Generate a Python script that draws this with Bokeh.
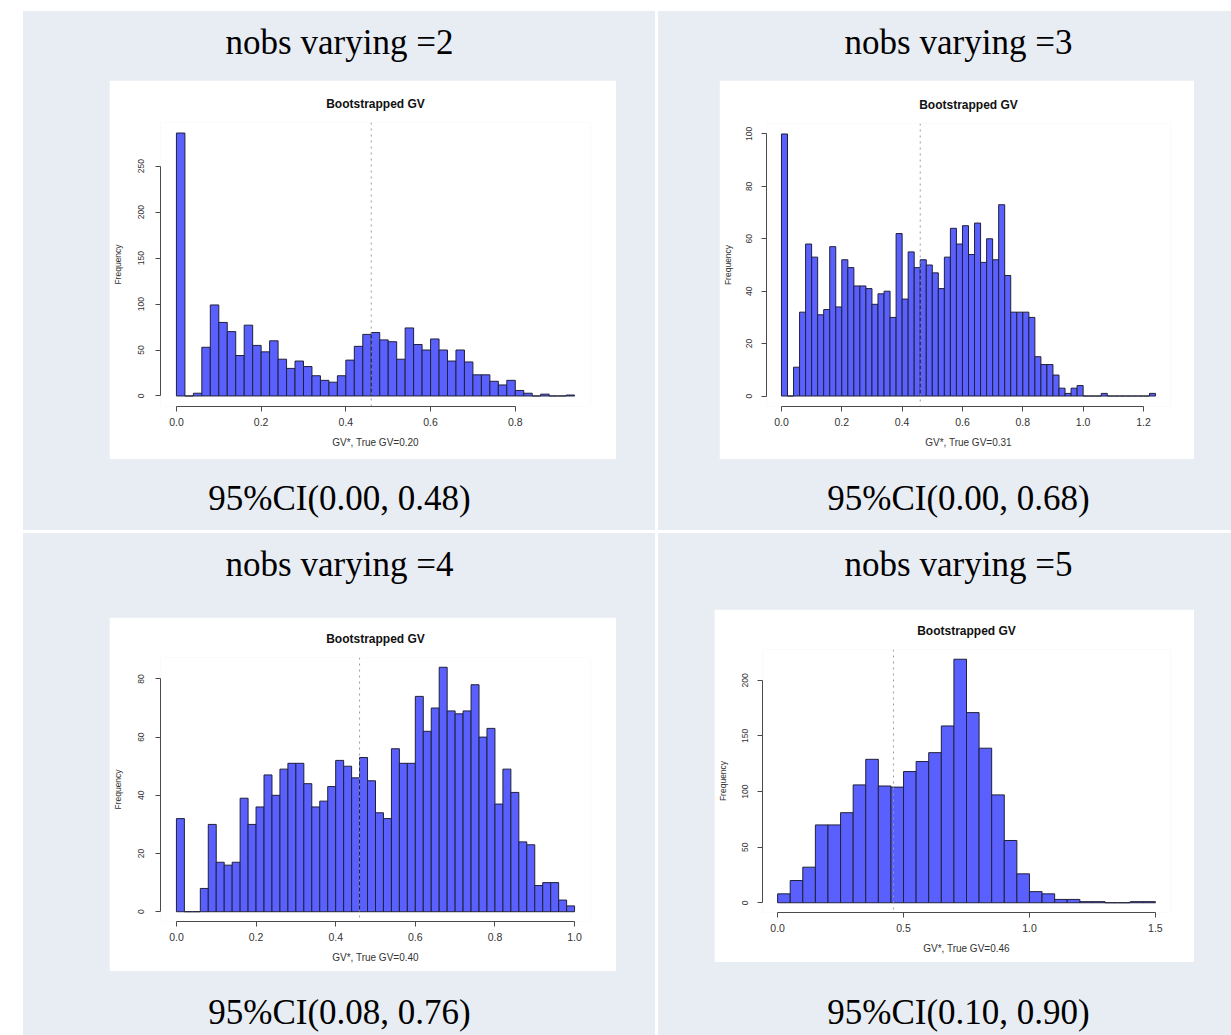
from bokeh.plotting import figure
from bokeh.layouts import row, column
from bokeh.models import Range1d, Span, FixedTicker, Spacer, NumeralTickFormatter
from bokeh.core.properties import value
from bokeh.embed import file_html
from bokeh.resources import INLINE

# ---------------- data ----------------
titles = ["nobs varying =2", "nobs varying =3", "nobs varying =4", "nobs varying =5"]
captions = ["95%CI(0.00, 0.48)", "95%CI(0.00, 0.68)", "95%CI(0.08, 0.76)", "95%CI(0.10, 0.90)"]
plot_title = "Bootstrapped GV"
x_labels = ["GV*, True GV=0.20", "GV*, True GV=0.31", "GV*, True GV=0.40", "GV*, True GV=0.46"]
y_label = "Frequency"

bin_widths = [0.02, 0.02, 0.02, 0.05]

counts_2 = [286, 0, 3, 53, 99, 80, 70, 44, 77, 55, 48, 60, 40, 30, 38, 32, 22, 17, 15, 22,
            39, 54, 67, 69, 61, 59, 40, 74, 56, 50, 62, 50, 38, 50, 37, 23, 23, 16, 12, 17,
            6, 3, 0, 2, 0, 0, 1]
counts_3 = [100, 0, 11, 32, 58, 53, 31, 33, 57, 34, 52, 49, 42, 42, 41, 35, 39, 40, 30, 62,
            37, 55, 49, 52, 50, 47, 41, 53, 64, 58, 65, 54, 66, 51, 60, 52, 73, 46, 32, 32,
            32, 30, 15, 12, 12, 8, 3, 1, 3, 4, 0, 0, 0, 1, 0, 0, 0, 0, 0, 0, 0, 1]
counts_4 = [32, 0, 0, 8, 30, 17, 16, 17, 39, 30, 36, 47, 40, 49, 51, 51, 44, 36, 38, 43,
            52, 50, 46, 53, 45, 34, 32, 56, 51, 51, 74, 62, 70, 84, 69, 68, 69, 78, 60, 63,
            37, 49, 41, 24, 23, 9, 10, 10, 4, 2]
counts_5 = [8, 20, 32, 70, 70, 81, 106, 129, 105, 104, 118, 127, 135, 159, 219, 171, 139, 97, 56, 26,
            10, 8, 3, 3, 1, 1, 0, 0, 1, 1]
all_counts = [counts_2, counts_3, counts_4, counts_5]

x_ticks = [[0.0, 0.2, 0.4, 0.6, 0.8],
           [0.0, 0.2, 0.4, 0.6, 0.8, 1.0, 1.2],
           [0.0, 0.2, 0.4, 0.6, 0.8, 1.0],
           [0.0, 0.5, 1.0, 1.5]]
y_ticks = [[0, 50, 100, 150, 200, 250],
           [0, 20, 40, 60, 80, 100],
           [0, 20, 40, 60, 80],
           [0, 50, 100, 150, 200]]
ref_line = [0.46, 0.46, 0.46, 0.46]

# ---------------- style ----------------
BG = "#e8ecf3"
BAR = "#5a60fd"
EDGE = "#20203a"
AXIS = "#4a4a4a"
VLINE = ["#9a9a9a", "#9a9a9a", "#9a9a9a", "#8aa88a"]
SERIF = "Liberation Serif"
SANS = "Liberation Sans"

# geometry of each histogram image: (width, height, left, right, top, bottom)
hist_geom = [(507, 379, 51, 26, 42, 53),
             (475, 379, 47, 24, 43, 53),
             (507, 354, 51, 26, 40, 50),
             (480, 353, 48, 24, 39, 50)]
# y-axis standoffs (tick labels, axis label)
y_stand = [(11, 13), (9, 11), (11, 13), (9, 12)]


def hist_fig(i):
    counts = all_counts[i]
    bw = bin_widths[i]
    w, h, ml, mr, mt, mb = hist_geom[i]
    n = len(counts)
    lefts = [k * bw for k in range(n)]
    rights = [(k + 1) * bw for k in range(n)]
    xmax = n * bw
    ymax = max(counts)
    p = figure(width=w, height=h,
               x_range=Range1d(-0.04 * xmax, 1.04 * xmax),
               y_range=Range1d(-0.04 * ymax, 1.04 * ymax),
               min_border_left=ml, min_border_right=mr,
               min_border_top=mt, min_border_bottom=mb,
               toolbar_location=None, output_backend="svg",
               background_fill_color="white", border_fill_color="white",
               outline_line_color=None, title=plot_title)
    p.quad(left=lefts, right=rights, bottom=0, top=counts,
           fill_color=BAR, line_color=EDGE, line_width=1)
    p.add_layout(Span(location=ref_line[i], dimension="height",
                      line_color=VLINE[i], line_dash="dotted", line_width=1))
    p.xgrid.visible = False
    p.ygrid.visible = False

    p.title.align = "center"
    p.title.text_font = SANS
    p.title.text_font_style = "bold"
    p.title.text_font_size = "12px"
    p.title.text_color = "#111111"
    p.title.standoff = 24

    xa = p.xaxis[0]
    xa.ticker = FixedTicker(ticks=x_ticks[i])
    xa.formatter = NumeralTickFormatter(format="0.0")
    xa.bounds = (x_ticks[i][0], x_ticks[i][-1])
    xa.axis_label = x_labels[i]
    xa.axis_label_text_font = SANS
    xa.axis_label_text_font_style = "normal"
    xa.axis_label_text_font_size = "10px"
    xa.axis_label_text_color = "#333333"
    xa.axis_label_standoff = 8
    xa.major_label_text_font = SANS
    xa.major_label_text_font_size = "10.5px"
    xa.major_label_text_color = "#333333"
    xa.major_label_standoff = 6

    ya = p.yaxis[0]
    ya.ticker = FixedTicker(ticks=y_ticks[i])
    ya.bounds = (y_ticks[i][0], y_ticks[i][-1])
    ya.axis_label = y_label
    ya.axis_label_text_font = SANS
    ya.axis_label_text_font_style = "normal"
    ya.axis_label_text_font_size = "8.5px"
    ya.axis_label_text_color = "#333333"
    ya.axis_label_standoff = y_stand[i][1]
    ya.major_label_text_font = SANS
    ya.major_label_text_font_size = "8.5px"
    ya.major_label_text_color = "#333333"
    ya.major_label_orientation = "vertical"
    ya.major_label_standoff = y_stand[i][0]

    for ax in (xa, ya):
        ax.axis_line_color = AXIS
        ax.major_tick_line_color = AXIS
        ax.major_tick_out = 5
        ax.major_tick_in = 0
        ax.minor_tick_line_color = None
    return p


def text_band(width, height, txt, cx, baseline):
    p = figure(width=width, height=height, title=None,
               x_range=Range1d(0, width), y_range=Range1d(height, 0),
               x_axis_type=None, y_axis_type=None, min_border=0,
               toolbar_location=None, output_backend="svg",
               background_fill_color=BG, border_fill_color=BG,
               outline_line_color=None)
    p.xgrid.visible = False
    p.ygrid.visible = False
    p.text(x=[cx], y=[baseline], text=[txt], text_align="center",
           text_baseline="alphabetic", text_font=value(SERIF),
           text_font_size="35px", text_color="#000000")
    return p


def pad(w, h):
    return Spacer(width=w, height=h, styles={"background-color": BG})


def cell(i, cell_w, pad_l, pad_r, top_h, bot_h, cx, top_base, bot_base):
    hp = hist_fig(i)
    w, h = hist_geom[i][0], hist_geom[i][1]
    mid = row(pad(pad_l, h), hp, pad(pad_r, h), spacing=0)
    return column(text_band(cell_w, top_h, titles[i], cx, top_base),
                  mid,
                  text_band(cell_w, bot_h, captions[i], cx, bot_base),
                  spacing=0, styles={"background-color": BG})


c1 = cell(0, 632, 86, 39, 69, 71, 316, 31, 39)
c2 = cell(1, 573, 61, 37, 69, 71, 300, 31, 39)
c3 = cell(2, 632, 86, 39, 84, 64, 316, 31, 41)
c4 = cell(3, 573, 56, 37, 76, 73, 300, 31, 50)

row1 = row(Spacer(width=23, height=519), c1, Spacer(width=3, height=519), c2, spacing=0)
row2 = row(Spacer(width=23, height=502), c3, Spacer(width=3, height=502), c4, spacing=0)
page = column(Spacer(width=1231, height=11), row1, Spacer(width=1231, height=3), row2, spacing=0)

open("out.html", "w").write(file_html(page, INLINE))
